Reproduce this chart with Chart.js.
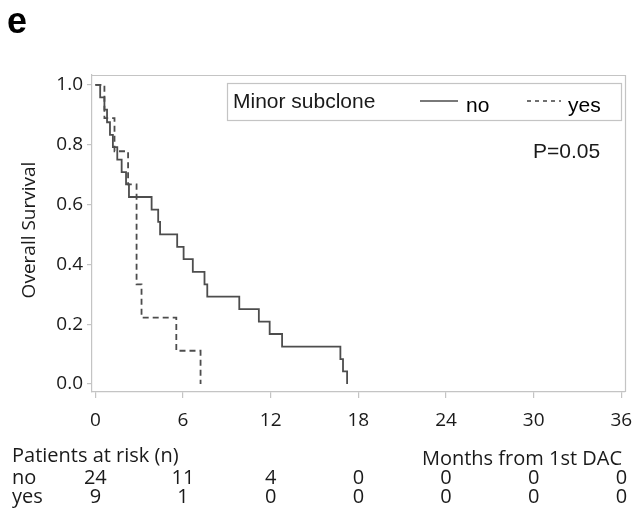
<!DOCTYPE html>
<html>
<head>
<meta charset="utf-8">
<script src="https://cdn.jsdelivr.net/npm/chart.js@4/dist/chart.umd.min.js"></script>
<style>
  html, body { margin: 0; padding: 0; background: #fff; }
  #wrap { width: 634px; height: 513px; position: relative; }
</style>
</head>
<body>
<div id="wrap"><canvas id="c" width="634" height="513"></canvas></div>
<script>
// ---- data ----
const noTimes  = [0, 0.33, 0.62, 0.8, 1.0, 1.2, 1.5, 1.8, 2.1, 2.3, 3.85, 4.3, 4.43, 5.6, 6.04, 6.67, 7.47, 7.66, 9.85, 11.19, 11.93, 12.78, 16.77, 16.95, 17.23];
const noSurv   = [1, 0.958, 0.917, 0.875, 0.833, 0.792, 0.75, 0.708, 0.667, 0.625, 0.583, 0.542, 0.5, 0.458, 0.417, 0.375, 0.333, 0.292, 0.25, 0.208, 0.167, 0.125, 0.083, 0.042, 0];
const yesTimes = [0, 0.62, 1.31, 2.24, 2.82, 3.16, 5.54, 7.2];
const yesSurv  = [1, 0.889, 0.778, 0.667, 0.333, 0.222, 0.111, 0];
const xTicks   = [0, 6, 12, 18, 24, 30, 36];
const yTicks   = [0, 0.2, 0.4, 0.6, 0.8, 1.0];
const riskNo   = [24, 11, 4, 0, 0, 0, 0];
const riskYes  = [9, 1, 0, 0, 0, 0, 0];
const groupLabels = ['no', 'yes'];

const toPts = (ts, vs) => ts.map((t, i) => ({ x: t, y: vs[i] }));
const LINE = '#4d4d4d';
const FRAME = '#c4c4c4';
const TXT = '#1a1a1a';
const FONT = '"Open Sans", "Noto Sans", sans-serif';
const LFONT = '"Liberation Sans", Arial, sans-serif';

const decor = {
  id: 'decor',
  beforeDatasetsDraw(chart) {
    const { ctx, chartArea: a } = chart;
    ctx.save();
    ctx.strokeStyle = FRAME;
    ctx.lineWidth = 1.2;
    ctx.beginPath();
    ctx.moveTo(a.left, a.top + 0.5);
    ctx.lineTo(a.right + 0.5, a.top + 0.5);
    ctx.lineTo(a.right + 0.5, a.bottom);
    ctx.stroke();
    ctx.restore();
  },
  afterDraw(chart) {
    const { ctx } = chart;
    const xs = chart.scales.x;
    ctx.save();
    // panel letter
    ctx.fillStyle = '#000';
    ctx.font = 'bold 36px ' + LFONT;
    ctx.textBaseline = 'alphabetic';
    ctx.textAlign = 'left';
    ctx.fillText('e', 7, 33);

    // y title
    ctx.save();
    ctx.translate(30, 230);
    ctx.rotate(-Math.PI / 2);
    ctx.font = '19px ' + FONT;
    ctx.fillStyle = TXT;
    ctx.textAlign = 'center';
    ctx.textBaseline = 'middle';
    ctx.fillText('Overall Survival', 0, 0);
    ctx.restore();

    // legend box
    ctx.strokeStyle = FRAME;
    ctx.lineWidth = 1.2;
    ctx.strokeRect(227.5, 83.5, 394, 37);
    ctx.font = '21px ' + LFONT;
    ctx.fillStyle = TXT;
    ctx.textBaseline = 'middle';
    ctx.textAlign = 'left';
    ctx.fillText('Minor subclone', 233, 102);
    ctx.strokeStyle = LINE;
    ctx.lineWidth = 1.6;
    ctx.beginPath(); ctx.moveTo(420, 101); ctx.lineTo(458, 101); ctx.stroke();
    ctx.setLineDash([4, 4]);
    ctx.beginPath(); ctx.moveTo(527, 101); ctx.lineTo(561, 101); ctx.stroke();
    ctx.setLineDash([]);
    ctx.fillStyle = '#000';
    ctx.fillText('no', 466, 106);
    ctx.fillText('yes', 568, 106);

    // p value
    ctx.fillStyle = TXT;
    ctx.font = '21px ' + LFONT;
    ctx.fillText('P=0.05', 533, 152);

    // risk table
    ctx.font = '20px ' + FONT;
    ctx.fillStyle = TXT;
    ctx.textAlign = 'left';
    ctx.fillText('Patients at risk (n)', 12, 456);
    ctx.textAlign = 'right';
    ctx.fillText('Months from 1st DAC', 622, 459);
    ctx.textAlign = 'left';
    ctx.fillText(groupLabels[0], 12, 478);
    ctx.fillText(groupLabels[1], 12, 497);
    ctx.textAlign = 'center';
    xTicks.forEach((t, i) => {
      const px = xs.getPixelForValue(t);
      ctx.fillText(String(riskNo[i]), px, 478);
      ctx.fillText(String(riskYes[i]), px, 497);
    });
    ctx.restore();
  }
};

new Chart(document.getElementById('c'), {
  type: 'line',
  data: {
    datasets: [
      { label: 'no', data: toPts(noTimes, noSurv), stepped: 'before', borderColor: LINE, borderWidth: 1.8, pointRadius: 0, fill: false },
      { label: 'yes', data: toPts(yesTimes, yesSurv), stepped: 'before', borderColor: LINE, borderWidth: 1.8, borderDash: [6, 4], pointRadius: 0, fill: false }
    ]
  },
  options: {
    responsive: false,
    animation: false,
    devicePixelRatio: 1,
    layout: { padding: { left: 0, top: 75, right: 9, bottom: 71 } },
    plugins: { legend: { display: false }, tooltip: { enabled: false } },
    scales: {
      x: {
        type: 'linear',
        min: -0.23, max: 36.25,
        afterBuildTicks: s => { s.ticks = xTicks.map(v => ({ value: v })); },
        afterFit: s => { s.height = 50; s.paddingLeft = 0; s.paddingRight = 0; },
        grid: { drawOnChartArea: false, drawTicks: true, tickLength: 6, color: FRAME, lineWidth: 1.2 },
        border: { display: true, color: FRAME, width: 1.2 },
        ticks: { font: { family: FONT, size: 19 }, color: TXT, padding: 11, maxRotation: 0, autoSkip: false }
      },
      y: {
        min: -0.027, max: 1.033,
        afterBuildTicks: s => { s.ticks = yTicks.map(v => ({ value: v })); },
        afterFit: s => { s.width = 92; s.paddingTop = 0; s.paddingBottom = 0; },
        grid: { drawOnChartArea: false, drawTicks: true, tickLength: 5, color: FRAME, lineWidth: 1.2 },
        border: { display: true, color: FRAME, width: 1.2, dash: [2, 1] },
        ticks: { font: { family: FONT, size: 19 }, color: TXT, padding: 4, callback: v => Number(v).toFixed(1) }
      }
    }
  },
  plugins: [decor]
});
</script>
</body>
</html>
